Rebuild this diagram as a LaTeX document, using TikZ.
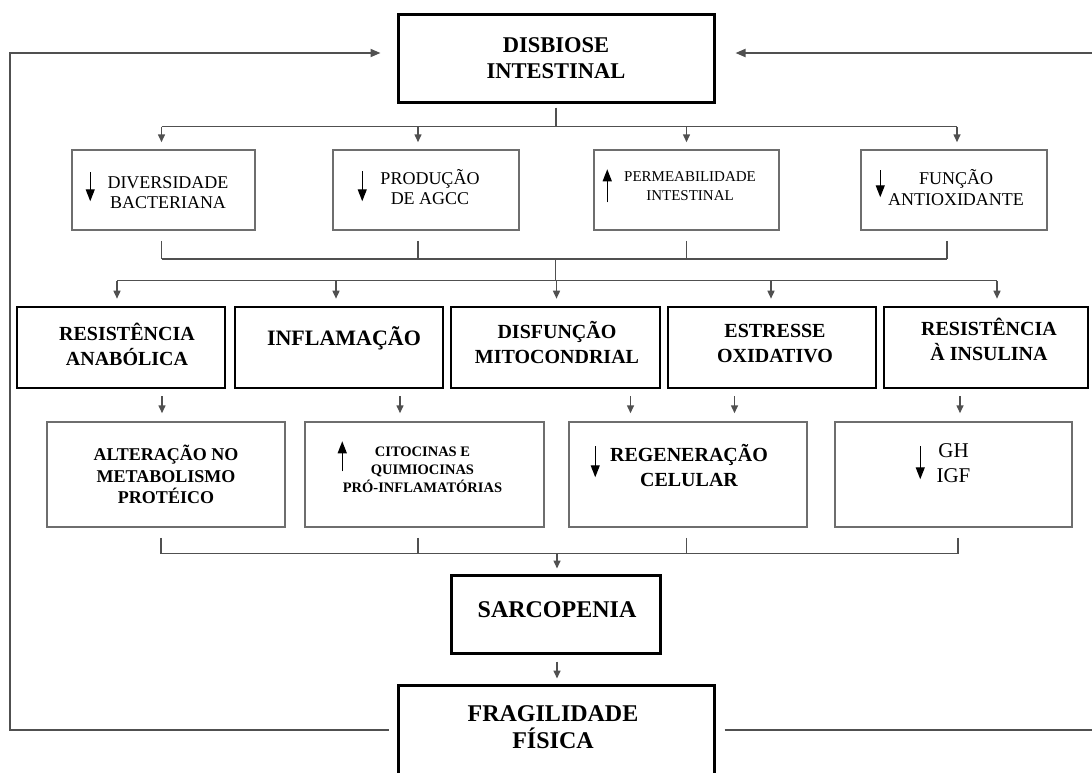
\documentclass[tikz,border=0pt]{standalone}
\usepackage{fontspec}
\setmainfont{Liberation Serif}
\usetikzlibrary{arrows.meta}
\definecolor{wiregray}{HTML}{505050}
\definecolor{framegray}{HTML}{6E6E6E}
\tikzset{
  thinbox/.style 2 args={draw=framegray,line width=1.5pt,minimum width=#1,minimum height=#2,inner sep=0pt},
  thickbox/.style 2 args={draw=black,line width=2.6pt,minimum width=#1,minimum height=#2,inner sep=0pt},
  txt/.style={align=center,inner sep=0pt},
  wire/.style={draw=wiregray,line width=1.5pt},
  down/.style={wire,-{Triangle[width=7pt,length=8pt]}},
  feed/.style={wire,line width=1.8pt,-{Triangle[width=8pt,length=10pt]}},
  indic/.style={draw=black,line width=1.3pt,-{Triangle[width=9pt,length=12pt]}}
}
\newcommand{\fsz}[2]{\fontsize{#1}{#2}\selectfont}

\begin{document}
\begin{tikzpicture}[x=1pt,y=-1pt]
  \useasboundingbox (0,0) rectangle (1092,772);
  \node[thickbox={316}{88},line width=3pt] (dis) at (556,58) {};
  \node[txt,font=\bfseries\fsz{22.5}{26.5}] (dist) at (dis.center) {DISBIOSE\\INTESTINAL};

  \node[thinbox={183}{80}] (dv) at (163.5,190) {};
  \node[thinbox={186}{80}] (pr) at (426,190) {};
  \node[thinbox={185}{80}] (pe) at (686.5,190) {};
  \node[thinbox={186}{80}] (fu) at (954,190) {};
  \node[txt,font=\fsz{18}{20.5}] (dvt) at ([shift={(4.5,2.5)}]dv.center) {DIVERSIDADE\\BACTERIANA};
  \node[txt,font=\fsz{18}{20.5}] (prt) at ([shift={(4,-3)}]pr.center) {PRODUÇÃO\\DE AGCC};
  \node[txt,font=\fsz{15}{18.5}] (pet) at ([shift={(3.5,-4)}]pe.center) {PERMEABILIDADE\\INTESTINAL};
  \node[txt,font=\fsz{18}{20.5}] (fut) at ([shift={(2,-2.5)}]fu.center) {FUNÇÃO\\ANTIOXIDANTE};
  \draw[indic] ([shift={(19,23)}]dv.north west) -- ++(0,29);
  \draw[indic] ([shift={(30,22)}]pr.north west) -- ++(0,30);
  \draw[indic] ([shift={(14,53)}]pe.north west) -- ++(0,-33);
  \draw[indic] ([shift={(20,21)}]fu.north west) -- ++(0,27);

  \node[thickbox={208}{81}] (ra) at (121,347.5) {};
  \node[thickbox={208}{81}] (infl) at (339,347.5) {};
  \node[thickbox={209}{81}] (disf) at (555.5,347.5) {};
  \node[thickbox={208}{81}] (est) at (772,347.5) {};
  \node[thickbox={204}{81}] (ri) at (986,347.5) {};
  \node[txt,font=\bfseries\fsz{20}{24.5}] (rat) at ([shift={(6,-3)}]ra.center) {RESISTÊNCIA\\ANABÓLICA};
  \node[txt,font=\bfseries\fsz{22}{26}] (inflt) at ([shift={(5,-9)}]infl.center) {INFLAMAÇÃO};
  \node[txt,font=\bfseries\fsz{20}{24.5}] (disft) at ([shift={(1.5,-5)}]disf.center) {DISFUNÇÃO\\MITOCONDRIAL};
  \node[txt,font=\bfseries\fsz{20}{24.5}] (estt) at ([shift={(3,-4)}]est.center) {ESTRESSE\\OXIDATIVO};
  \node[txt,font=\bfseries\fsz{20}{24.5}] (rit) at ([shift={(3,-8)}]ri.center) {RESISTÊNCIA\\À INSULINA};

  \node[thinbox={238}{105}] (alt) at (166,474.5) {};
  \node[thinbox={239}{105}] (cit) at (424.5,474.5) {};
  \node[thinbox={238}{105}] (reg) at (688,474.5) {};
  \node[thinbox={237}{105}] (gh) at (953.5,474.5) {};
  \node[txt,font=\bfseries\fsz{18}{21.5}] (altt) at ([shift={(0,0)}]alt.center) {ALTERAÇÃO NO\\METABOLISMO\\PROTÉICO};
  \node[txt,font=\bfseries\fsz{14.5}{18}] (citt) at ([shift={(-2,-5)}]cit.center) {CITOCINAS E\\QUIMIOCINAS\\PRÓ-INFLAMATÓRIAS};
  \node[txt,font=\bfseries\fsz{20}{25}] (regt) at ([shift={(1,-9)}]reg.center) {REGENERAÇÃO\\CELULAR};
  \node[txt,font=\fsz{21}{24.5}] (ght) at ([shift={(0,-11.5)}]gh.center) {GH\\IGF};
  \draw[indic] ([shift={(38,50)}]cit.north west) -- ++(0,-30);
  \draw[indic] ([shift={(27,25)}]reg.north west) -- ++(0,31);
  \draw[indic] ([shift={(86,25)}]gh.north west) -- ++(0,33);

  \node[thickbox={209}{78},line width=3pt] (sarc) at (555.5,614) {};
  \node[txt,font=\bfseries\fsz{24}{27}] (sarct) at ([shift={(1.5,-4)}]sarc.center) {SARCOPENIA};
  \node[thickbox={316}{90},line width=3pt] (frag) at (556,730) {};
  \node[txt,font=\bfseries\fsz{24}{26.5}] (fragt) at ([shift={(-3,-3)}]frag.center) {FRAGILIDADE\\FÍSICA};

  \coordinate (j1) at ([yshift=-23]dis.south);
  \coordinate (j2) at ([yshift=-28]pe.south);
  \coordinate (j3) at ([yshift=25]disf.north);
  \coordinate (j4) at ([yshift=20]sarc.north);
  \coordinate (lt) at (10,53);
  \coordinate (rt) at (1097,53);

  \draw[wire] ([yshift=-4]dis.south) -- (j1);
  \draw[wire] ([xshift=-2]dv.north |- j1) -- ([xshift=3]fu.north |- j1);
  \draw[down,shorten >=7pt] ([xshift=-2]dv.north |- j1) -- ([xshift=-2]dv.north);
  \draw[down,shorten >=7pt] ([xshift=-8]pr.north |- j1) -- ([xshift=-8]pr.north);
  \draw[down,shorten >=7pt] (pe.north |- j1) -- (pe.north);
  \draw[down,shorten >=7pt] ([xshift=3]fu.north |- j1) -- ([xshift=3]fu.north);

  \draw[wire] ([xshift=-2,yshift=-10]dv.south) -- ([xshift=-2]dv.south |- j2);
  \draw[wire] ([xshift=-8,yshift=-10]pr.south) -- ([xshift=-8]pr.south |- j2);
  \draw[wire] ([yshift=-10]pe.south) -- (pe.south |- j2);
  \draw[wire] ([xshift=-7,yshift=-10]fu.south) -- ([xshift=-7]fu.south |- j2);
  \draw[wire] ([xshift=-2]dv.south |- j2) -- ([xshift=-7]fu.south |- j2);
  \draw[wire] (disf.north |- j2) -- (disf.north |- j3);

  \draw[wire] ([xshift=-4]ra.north |- j3) -- ([xshift=11]ri.north |- j3);
  \draw[down,shorten >=7pt] ([xshift=-4]ra.north |- j3) -- ([xshift=-4]ra.north);
  \draw[down,shorten >=7pt] ([xshift=-3]infl.north |- j3) -- ([xshift=-3]infl.north);
  \draw[down,shorten >=7pt] ([xshift=1]disf.north |- j3) -- ([xshift=1]disf.north);
  \draw[down,shorten >=7pt] ([xshift=-1]est.north |- j3) -- ([xshift=-1]est.north);
  \draw[down,shorten >=7pt] ([xshift=11]ri.north |- j3) -- ([xshift=11]ri.north);

  \draw[down,shorten <=7pt,shorten >=8pt] ([xshift=-4]alt.north |- ra.south) -- ([xshift=-4]alt.north);
  \draw[down,shorten <=7pt,shorten >=8pt] ([xshift=-24.5]cit.north |- infl.south) -- ([xshift=-24.5]cit.north);
  \draw[down,shorten <=7pt,shorten >=8pt] ([xshift=-57.5]reg.north |- disf.south) -- ([xshift=-57.5]reg.north);
  \draw[down,shorten <=7pt,shorten >=8pt] ([xshift=46.5]reg.north |- est.south) -- ([xshift=46.5]reg.north);
  \draw[down,shorten <=7pt,shorten >=8pt] ([xshift=6.5]gh.north |- ri.south) -- ([xshift=6.5]gh.north);

  \draw[wire] ([xshift=-5,yshift=-10]alt.south) -- ([xshift=-5]alt.south |- j4);
  \draw[wire] ([xshift=-6.5,yshift=-10]cit.south) -- ([xshift=-6.5]cit.south |- j4);
  \draw[wire] ([xshift=-1.5,yshift=-10]reg.south) -- ([xshift=-1.5]reg.south |- j4);
  \draw[wire] ([xshift=4.5,yshift=-10]gh.south) -- ([xshift=4.5]gh.south |- j4);
  \draw[wire] ([xshift=-5]alt.south |- j4) -- ([xshift=4.5]gh.south |- j4);
  \draw[down,shorten >=5pt] ([xshift=1.5]sarc.north |- j4) -- ([xshift=1.5]sarc.north);
  \draw[down,shorten <=7pt,shorten >=5pt] ([xshift=1.5]sarc.south) -- ([xshift=1.5]sarc.south |- frag.north);

  \draw[feed,shorten <=8pt,shorten >=16pt] (frag.west) -| (lt) -- (lt -| dis.west);
  \draw[feed,shorten <=9pt,shorten >=20pt] (frag.east) -| (rt) -- (rt -| dis.east);
\end{tikzpicture}
\end{document}
